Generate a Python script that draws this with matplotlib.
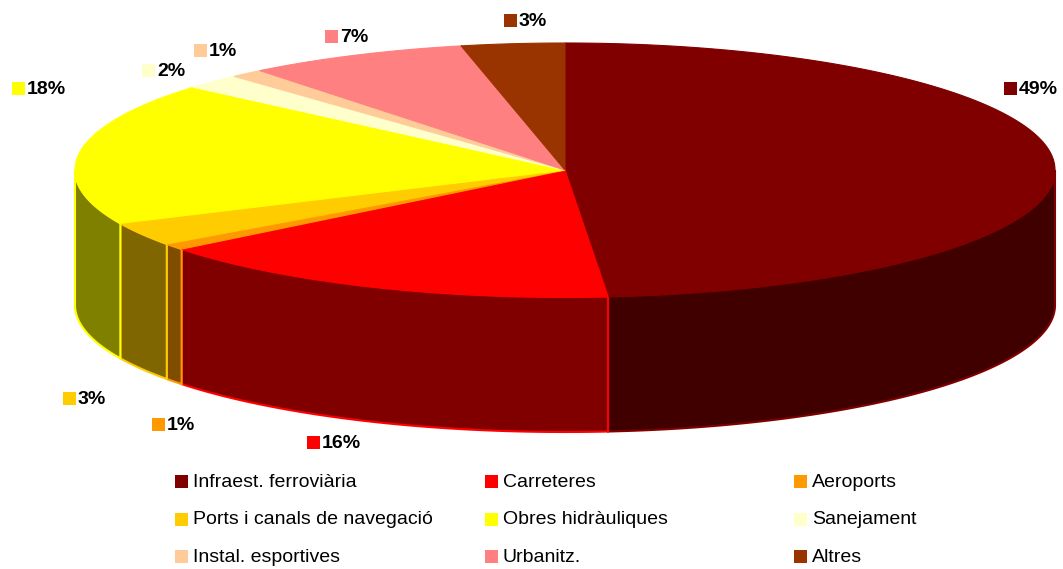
import numpy as np
import matplotlib.pyplot as plt
from matplotlib.patches import Polygon, Rectangle
from matplotlib.colors import to_rgb

plt.rcParams['font.family'] = ['Liberation Sans', 'DejaVu Sans']

# slice data (percent of total)
categories = ['Infraest. ferroviària', 'Carreteres', 'Aeroports',
              'Ports i canals de navegació', 'Obres hidràuliques', 'Sanejament',
              'Instal. esportives', 'Urbanitz.', 'Altres']
values = [48.6, 15.7, 0.8, 3.0, 18.2, 1.9, 1.1, 7.3, 3.4]
colors = ['#800000', '#FF0000', '#FF9900', '#FFCC00', '#FFFF00',
          '#FFFFCC', '#FFCC99', '#FF8080', '#993300']

# where Excel put the data labels (square centre, pixels)
label_pos = [(1010, 88), (313, 442), (158, 424), (69, 398), (18, 88),
             (148, 70), (200, 50), (331, 36), (510, 20)]

# pie geometry in pixels
cx, cy = 565, 170
rx, ry = 490, 127
depth = 135

fig = plt.figure(figsize=(10.63, 5.69), dpi=100)
ax = fig.add_axes([0, 0, 1, 1])
ax.set_xlim(0, 1063)
ax.set_ylim(569, 0)
ax.axis('off')


def arc(a0, a1, n=200):
    t = np.radians(np.linspace(a0, a1, n))
    return cx + rx * np.sin(t), cy - ry * np.cos(t)


total = sum(values)
angles = np.concatenate([[0], np.cumsum(values) / total * 360])

# side walls (only the front half is visible)
for i, c in enumerate(colors):
    a0, a1 = max(angles[i], 90), min(angles[i + 1], 270)
    if a1 <= a0:
        continue
    x, y = arc(a0, a1)
    xs = np.concatenate([x, x[::-1]])
    ys = np.concatenate([y, (y + depth)[::-1]])
    dark = tuple(v * 0.5 for v in to_rgb(c))
    ax.add_patch(Polygon(np.column_stack([xs, ys]), closed=True,
                         facecolor=dark, edgecolor=c, lw=1.5, zorder=1))

# top faces
for i, c in enumerate(colors):
    x, y = arc(angles[i], angles[i + 1])
    xs = np.concatenate([[cx], x])
    ys = np.concatenate([[cy], y])
    ax.add_patch(Polygon(np.column_stack([xs, ys]), closed=True,
                         facecolor=c, edgecolor=c, lw=0.8, zorder=2))

# data labels
for (px, py), v, c in zip(label_pos, values, colors):
    ax.add_patch(Rectangle((px - 6.5, py - 6.5), 13, 13, facecolor=c,
                           edgecolor='none', zorder=3))
    ax.text(px + 9, py + 1, f'{round(v / total * 100)}%', fontsize=14,
            fontweight='bold', va='center', ha='left', zorder=4)

# legend, 3 columns
leg_x = [181, 491, 800]
leg_y = [481, 519, 556]
for i, (name, c) in enumerate(zip(categories, colors)):
    lx, ly = leg_x[i % 3], leg_y[i // 3]
    ax.add_patch(Rectangle((lx - 6.5, ly - 6.5), 13, 13, facecolor=c,
                           edgecolor='none', zorder=3))
    ax.text(lx + 12, ly + 1, name, fontsize=14, va='center', ha='left')

fig.savefig('out.png', dpi=100)
